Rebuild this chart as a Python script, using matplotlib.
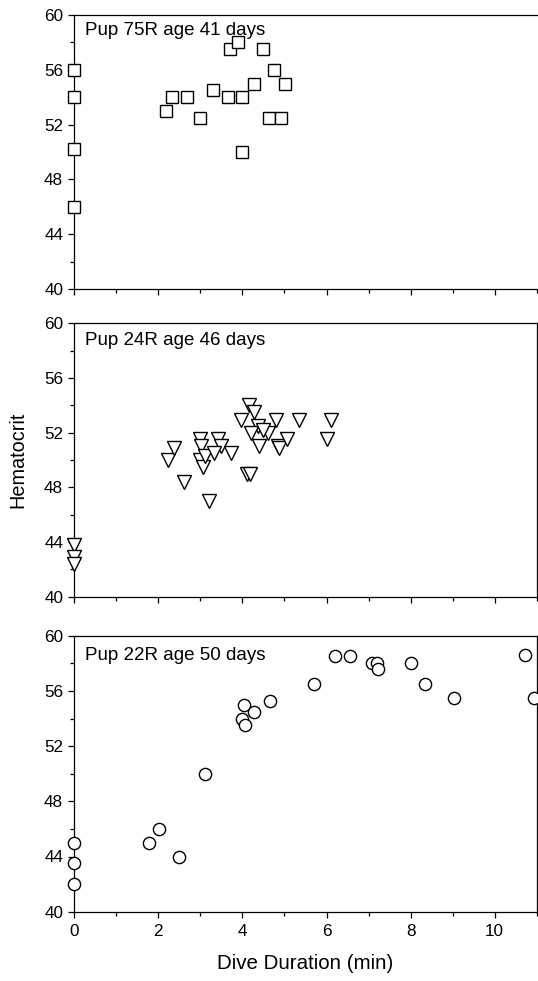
import matplotlib
matplotlib.use("Agg")
import matplotlib.pyplot as plt
from matplotlib.ticker import MultipleLocator

plt.rcParams['font.family'] = ['Liberation Sans', 'DejaVu Sans']

# Panel titles
titles = ["Pup 75R age 41 days", "Pup 24R age 46 days", "Pup 22R age 50 days"]

# Pup 75R (squares)
dur_75 = [0, 0, 0, 0, 2.17, 2.32, 2.69, 2.99, 3.30, 3.66, 3.71, 3.90, 4.00, 3.99,
          4.27, 4.50, 4.76, 4.62, 4.91, 5.02]
hct_75 = [56.0, 54.0, 50.2, 46.0, 53.0, 54.0, 54.0, 52.5, 54.5, 54.0, 57.5, 58.0, 54.0, 50.0,
          55.0, 57.5, 56.0, 52.5, 52.5, 55.0]

# Pup 24R (triangles)
dur_24 = [0, 0, 0, 2.23, 2.36, 2.62, 2.98, 3.02, 2.98, 3.07, 3.10, 3.20, 3.41, 3.49,
          3.33, 3.73, 3.96, 4.15, 4.28, 4.38, 4.20, 4.60, 4.40, 4.81, 4.84, 4.88,
          5.05, 5.35, 6.10, 6.02, 4.10, 4.18, 4.50]
hct_24 = [43.8, 42.9, 42.4, 50.0, 50.9, 48.4, 51.5, 51.0, 50.0, 49.5, 50.3, 47.0, 51.5, 51.0,
          50.5, 50.5, 52.9, 54.0, 53.5, 52.5, 52.0, 52.0, 51.0, 52.9, 51.0, 50.9,
          51.5, 52.9, 52.9, 51.5, 49.0, 49.0, 52.2]

# Pup 22R (circles)
dur_22 = [0, 0, 0, 1.77, 2.01, 2.49, 3.10, 4.04, 3.98, 4.05, 4.28, 4.65, 5.70, 6.21,
          6.57, 7.08, 7.19, 7.22, 8.01, 8.34, 9.04, 10.72, 10.94]
hct_22 = [45.0, 43.5, 42.0, 45.0, 46.0, 44.0, 50.0, 55.0, 54.0, 53.5, 54.5, 55.3, 56.5, 58.5,
          58.5, 58.0, 58.0, 57.6, 58.0, 56.5, 55.5, 58.6, 55.5]

xlabel = "Dive Duration (min)"
ylabel = "Hematocrit"

W, H = 538, 981
fig = plt.figure(figsize=(W / 100, H / 100), dpi=100)

left = 74.3 / W
right = 536.7 / W
panels = [(15, 289), (323.3, 596.7), (635.7, 911.7)]
markers = ['s', 'v', 'o']
msizes = [9.3, 9.6, 8.8]
datasets = [(dur_75, hct_75), (dur_24, hct_24), (dur_22, hct_22)]
title_y = [0.975, 0.967, 0.958]

axes = []
for i, (top, bot) in enumerate(panels):
    ax = fig.add_axes([left, 1 - bot / H, right - left, (bot - top) / H])
    axes.append(ax)
    x, y = datasets[i]
    ax.plot(x, y, linestyle='none', marker=markers[i], ms=msizes[i],
            mfc='white', mec='black', mew=1.0, clip_on=False, zorder=3)
    ax.set_xlim(0, 11)
    ax.set_ylim(40, 60)
    ax.yaxis.set_major_locator(MultipleLocator(4))
    ax.yaxis.set_minor_locator(MultipleLocator(2))
    ax.xaxis.set_major_locator(MultipleLocator(2))
    ax.xaxis.set_minor_locator(MultipleLocator(1))
    ax.tick_params(axis='both', which='major', direction='out', length=4, width=0.9,
                   labelsize=12.3, colors='black')
    ax.tick_params(axis='both', which='minor', direction='out', length=3, width=0.9)
    ax.tick_params(axis='y', which='major', pad=4)
    ax.tick_params(axis='x', which='major', pad=5)
    for s in ax.spines.values():
        s.set_linewidth(0.9)
    ax.text(0.023, title_y[i], titles[i], transform=ax.transAxes, ha='left', va='top',
            fontsize=13.5)
    if i < 2:
        ax.tick_params(axis='x', labelbottom=False)
    if i == 0:
        ax.spines['right'].set_visible(False)

axes[2].set_xlabel(xlabel, fontsize=14.8, labelpad=11)
fig.text(18 / W, 1 - 460 / H, ylabel, rotation=90, ha='center', va='center', fontsize=14.3)

fig.savefig("out.png", dpi=100)
